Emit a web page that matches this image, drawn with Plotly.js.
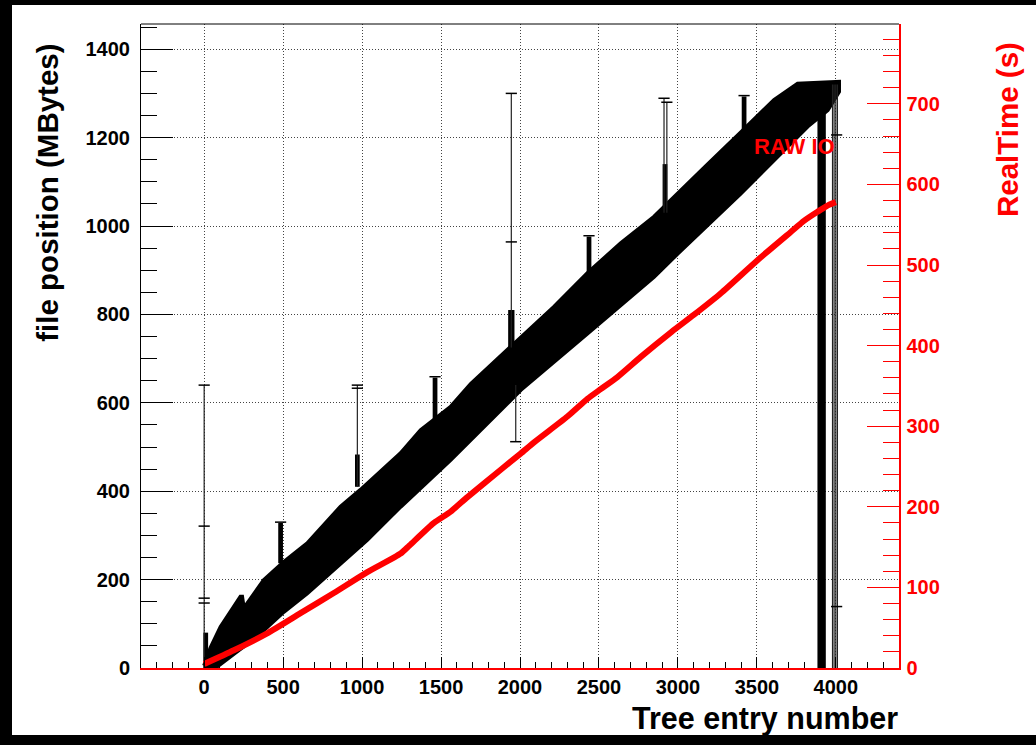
<!DOCTYPE html>
<html><head><meta charset="utf-8">
<script src="https://cdn.plot.ly/plotly-3.0.1.min.js"></script>
<style>
html,body{margin:0;padding:0;background:#000;width:1036px;height:745px;overflow:hidden}
#chart{position:absolute;left:12px;top:5px;width:1024px;height:730px;background:#fff}
</style>
</head><body><div id="chart"></div>
<script>
// ---- data ----
// Dense band of read positions (file position in MB vs tree entry): upper and lower edges
const bandTopEntry = [0, 40, 104, 230, 240, 251, 378, 504, 653, 864, 990, 1244, 1371, 1561, 1689, 1942, 2215, 2427, 2638, 2849, 2976, 3190, 3400, 3609, 3758, 4020];
const bandTopMB    = [5, 45, 93, 161, 161, 135, 199, 240, 282, 365, 403, 486, 538, 591, 643, 727, 817, 893, 961, 1021, 1066, 1140, 1212, 1285, 1322, 1326];
const bandBottomEntry = [0, 70, 200, 336, 504, 653, 821, 1033, 1244, 1561, 2004, 2427, 2849, 2976, 3399, 3821, 3948, 4020];
const bandBottomMB    = [0, 0, 35, 72, 127, 169, 222, 290, 365, 471, 629, 757, 885, 930, 1074, 1225, 1262, 1304];

// Dense bursts of reads (thick vertical blocks)
const burstEntry  = [10, 484, 970, 1462, 1945, 2437, 2918, 3419, 3910];
const burstFromMB = [0, 237, 410, 560, 725, 890, 1030, 1200, 0];
const burstToMB   = [80, 328, 483, 657, 810, 976, 1140, 1293, 1312];
const burstSpan   = [30, 30, 30, 30, 40, 30, 30, 30, 53];

// Long single reads (thin vertical error bars)
const seekEntry  = [0, 970, 1945, 1973, 2912, 2930, 3979, 3989, 4000, 4010];
const seekFromMB = [0, 410, 725, 512, 1030, 1030, 0, 0, 0, 0];
const seekToMB   = [640, 640, 1300, 640, 1289, 1280, 1320, 1320, 1320, 1320];

// End caps of the error bars
const capEntry = [0, 0, 0, 0, 970, 970, 1945, 1945, 1973, 2912, 2930, 4005, 4005, 484, 1462, 3419, 2437];
const capMB    = [640, 321, 158, 147, 640, 633, 1300, 964, 512, 1289, 1280, 1206, 139, 330, 659, 1295, 978];

// RealTime (s) vs tree entry
const rtEntry = [0, 188, 399, 610, 821, 1033, 1244, 1300, 1455, 1561, 1667, 1878, 2004, 2089, 2300, 2427, 2511, 2617, 2765, 2960, 3100, 3272, 3504, 3715, 3800, 3884, 3950, 4000];
const rtSec   = [5, 22, 43, 68, 93, 119, 142, 152, 180, 194, 212, 246, 266, 280, 312, 334, 346, 361, 386, 417, 438, 465, 506, 541, 555, 566, 574, 578];

const xTickVals = [0, 500, 1000, 1500, 2000, 2500, 3000, 3500, 4000];

// ---- build traces ----
const FONT = '"Liberation Sans", Arial, Helvetica, sans-serif';

const bandX = bandTopEntry.concat(bandBottomEntry.slice().reverse());
const bandY = bandTopMB.concat(bandBottomMB.slice().reverse());

const seekX = [], seekY = [];
seekEntry.forEach((e, i) => { seekX.push(e, e, null); seekY.push(seekFromMB[i], seekToMB[i], null); });

const traces = [
  {type:'scatter', mode:'lines', x: bandX, y: bandY, fill:'toself', fillcolor:'#000',
   line:{color:'#000', width:4}, hoverinfo:'skip'},
  {type:'bar', x: burstEntry, base: burstFromMB, y: burstToMB.map((v,i)=>v-burstFromMB[i]),
   width: burstSpan, marker:{color:'#000', line:{width:0}}, hoverinfo:'skip'},
  {type:'scatter', mode:'lines', x: seekX, y: seekY, connectgaps:false,
   line:{color:'#222', width:1.2}, hoverinfo:'skip'},
  {type:'scatter', mode:'markers', x: capEntry, y: capMB,
   marker:{symbol:'line-ew', size:8, line:{color:'#000', width:1.5}}, hoverinfo:'skip'},
  {type:'scatter', mode:'lines', x: rtEntry, y: rtSec, yaxis:'y2',
   line:{color:'#ff0000', width:6, shape:'spline', smoothing:0.6}, hoverinfo:'skip'}
];

const tickFont = {family: FONT, size: 20, color:'#000', weight:'bold'};

const layout = {
  width: 1024, height: 730,
  margin: {l:129, r:137, t:19, b:67, pad:0},
  paper_bgcolor:'#fff', plot_bgcolor:'#fff',
  showlegend:false, barmode:'overlay',
  xaxis: {
    range:[-400, 4400], tickmode:'array', tickvals: xTickVals, ticktext: xTickVals.map(String),
    ticks:'inside', ticklen:11, tickwidth:1, tickcolor:'#000',
    minor:{dtick:100, tick0:0, ticks:'inside', ticklen:6, tickwidth:1, tickcolor:'#000', showgrid:false},
    showgrid:true, gridcolor:'#444', gridwidth:1, griddash:'1px,2px',
    showline:true, linecolor:'#ff0000', linewidth:1.5, zeroline:false,
    tickfont: tickFont, ticklabelstandoff: 0
  },
  yaxis: {
    range:[0, 1457], tick0:0, dtick:200,
    ticks:'inside', ticklen:32, tickwidth:1, tickcolor:'#000',
    minor:{dtick:50, tick0:0, ticks:'inside', ticklen:16, tickwidth:1, tickcolor:'#000', showgrid:false},
    showgrid:true, gridcolor:'#444', gridwidth:1, griddash:'1px,2px',
    showline:true, linecolor:'#000', linewidth:1, zeroline:false,
    tickfont: tickFont, ticklabelstandoff: 6
  },
  yaxis2: {
    overlaying:'y', side:'right', range:[0, 799], tick0:0, dtick:100,
    ticks:'inside', ticklen:32, tickwidth:1, tickcolor:'#ff0000',
    minor:{dtick:20, tick0:0, ticks:'inside', ticklen:16, tickwidth:1, tickcolor:'#ff0000', showgrid:false},
    showgrid:false, showline:true, linecolor:'#ff0000', linewidth:1.5, zeroline:false,
    tickfont: {family: FONT, size: 20, color:'#ff0000', weight:'bold'}, ticklabelstandoff: 2
  },
  shapes: [
    {type:'line', xref:'paper', yref:'paper', x0:0, x1:1, y0:1, y1:1, line:{color:'#000', width:1}}
  ],
  annotations: [
    {text:'file position (MBytes)', xref:'paper', yref:'paper', x:-0.1227, y:0.738,
     xanchor:'center', yanchor:'middle', textangle:-90, showarrow:false,
     font:{family:FONT, size:29.5, color:'#000', weight:'bold'}},
    {text:'RealTime (s)', xref:'paper', yref:'paper', x:1.1425, y:0.8354,
     xanchor:'center', yanchor:'middle', textangle:-90, showarrow:false,
     font:{family:FONT, size:29.5, color:'#ff0000', weight:'bold'}},
    {text:'Tree entry number', xref:'paper', yref:'paper', x:1.0014, y:-0.079,
     xanchor:'right', yanchor:'middle', showarrow:false,
     font:{family:FONT, size:30.5, color:'#000', weight:'bold'}},
    {text:'RAW IO', xref:'paper', yref:'paper', x:0.806, y:0.8098,
     xanchor:'left', yanchor:'middle', showarrow:false,
     font:{family:FONT, size:22, color:'#ff0000', weight:'bold'}}
  ]
};

Plotly.newPlot('chart', traces, layout, {staticPlot:true, displayModeBar:false});
</script></body></html>
